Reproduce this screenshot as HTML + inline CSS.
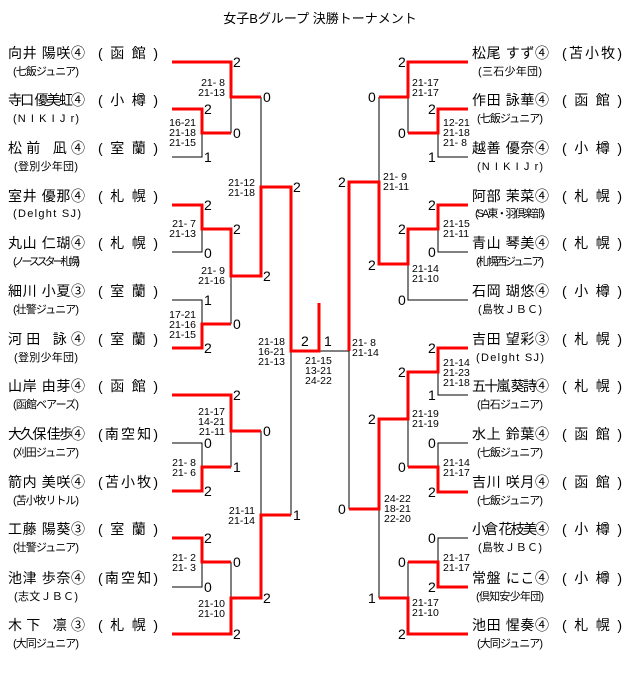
<!DOCTYPE html>
<html><head><meta charset="utf-8"><style>
html,body{margin:0;padding:0;background:#fff;}
svg{display:block;font-family:"Liberation Sans","Noto Sans CJK JP",sans-serif;}
.n{font-size:14px;}
.t{font-size:11px;}
.d{font-size:14px;}
.s{font-size:10.5px;}
</style></head><body>
<svg width="640" height="697" viewBox="0 0 640 697" xmlns="http://www.w3.org/2000/svg">
<text x="320" y="23" text-anchor="middle" font-size="13">女子Bグループ 決勝トーナメント</text>
<g fill="none" stroke="#000" stroke-width="1">
<path d="M172,157H202V133M231,97V133M172,252H202V229M172,300H202V324M231,276V324M261,97V187M291,351V515M172,443H202V467M231,431V467M261,431V515M172,587H202V562M231,562V598M319,351H349V509"/>
<path d="M468,157H438V133M408,97V133M379,97V182M468,252H438V229M468,300H408V264M468,395H438V372M468,443H438V467M408,419V467M468,538H438V562M408,562V598M379,509V598"/>
</g>
<g fill="none" stroke="#f00" stroke-width="3">
<path d="M172,62H231V97H261M172,109H202V133H231M172,205H202V229H231V276H261V187H291V351H319V303M172,348H202V324H231M172,395H231V431H261M172,491H202V467H231M172,538H202V562H231M172,634H231V598H261V515H291"/>
<path d="M468,62H408V97H379M468,109H438V133H408M468,205H438V229H408V264H379V182H349V351M468,348H438V372H408V419H379V509H349M468,492H438V467H408M468,587H438V562H408M468,634H408V598H379"/>
</g>
<g class="d" dominant-baseline="central">
<text x="233" y="62">2</text><text x="204" y="109">2</text><text x="204" y="157">1</text><text x="233" y="133">0</text><text x="263" y="97">0</text>
<text x="204" y="205">2</text><text x="204" y="253">0</text><text x="233" y="229">2</text><text x="204" y="300">1</text><text x="204" y="348">2</text><text x="233" y="324">0</text><text x="263" y="276">2</text><text x="293" y="187">2</text>
<text x="301" y="341">2</text><text x="324" y="341">1</text>
<text x="233" y="395">2</text><text x="204" y="443">0</text><text x="204" y="491">2</text><text x="233" y="467">1</text><text x="263" y="431">0</text>
<text x="204" y="538">2</text><text x="204" y="587">0</text><text x="233" y="562">0</text><text x="233" y="634">2</text><text x="263" y="598">2</text><text x="293" y="515">1</text>
<text x="398" y="62">2</text><text x="368" y="97">0</text><text x="428" y="109">2</text><text x="398" y="133">0</text><text x="428" y="157">1</text><text x="338" y="182">2</text>
<text x="428" y="205">2</text><text x="398" y="229">2</text><text x="428" y="252">0</text><text x="368" y="265">2</text><text x="398" y="300">0</text>
<text x="428" y="348">2</text><text x="428" y="395">1</text><text x="398" y="372">2</text><text x="428" y="443">0</text><text x="428" y="492">2</text><text x="398" y="467">0</text><text x="368" y="419">2</text>
<text x="428" y="538">0</text><text x="428" y="587">2</text><text x="398" y="562">0</text><text x="398" y="634">2</text><text x="368" y="598">1</text><text x="338" y="509">0</text>
</g>
<g class="s" dominant-baseline="central" text-anchor="end">
<text x="225" y="83">21- 8</text><text x="225" y="93">21-13</text>
<text x="196" y="123">16-21</text><text x="196" y="133">21-18</text><text x="196" y="143">21-15</text>
<text x="196" y="224">21- 7</text><text x="196" y="234">21-13</text>
<text x="196" y="315">17-21</text><text x="196" y="325">21-16</text><text x="196" y="335">21-15</text>
<text x="225" y="271">21- 9</text><text x="225" y="281">21-16</text>
<text x="255" y="183">21-12</text><text x="255" y="193">21-18</text>
<text x="285" y="342">21-18</text><text x="285" y="352">16-21</text><text x="285" y="362">21-13</text>
<text x="225" y="412">21-17</text><text x="225" y="422">14-21</text><text x="225" y="432">21-11</text>
<text x="196" y="463">21- 8</text><text x="196" y="473">21- 6</text>
<text x="255" y="511">21-11</text><text x="255" y="521">21-14</text>
<text x="196" y="558">21- 2</text><text x="196" y="568">21- 3</text>
<text x="225" y="604">21-10</text><text x="225" y="614">21-10</text>
</g>
<g class="s" dominant-baseline="central">
<text x="305" y="361">21-15</text><text x="305" y="371">13-21</text><text x="305" y="381">24-22</text>
<text x="352" y="343">21- 8</text><text x="352" y="353">21-14</text>
<text x="412" y="83">21-17</text><text x="412" y="93">21-17</text>
<text x="443" y="123">12-21</text><text x="443" y="133">21-18</text><text x="443" y="143">21- 8</text>
<text x="383" y="177">21- 9</text><text x="383" y="187">21-11</text>
<text x="443" y="224">21-15</text><text x="443" y="234">21-11</text>
<text x="412" y="269">21-14</text><text x="412" y="279">21-10</text>
<text x="443" y="363">21-14</text><text x="443" y="373">21-23</text><text x="443" y="383">21-18</text>
<text x="412" y="414">21-19</text><text x="412" y="424">21-19</text>
<text x="443" y="463">21-14</text><text x="443" y="473">21-17</text>
<text x="384" y="499">24-22</text><text x="384" y="509">18-21</text><text x="384" y="519">22-20</text>
<text x="443" y="558">21-17</text><text x="443" y="568">21-17</text>
<text x="412" y="603">21-17</text><text x="412" y="613">21-10</text>
</g>
<g class="n" dominant-baseline="central" lengthAdjust="spacingAndGlyphs">
<text x="8" y="53" textLength="77">向井 陽咲④</text><text x="98" y="53" textLength="60">( 函 館 )</text>
<text x="8" y="100" textLength="77">寺口 優美虹④</text><text x="98" y="100" textLength="60">( 小 樽 )</text>
<text x="8" y="148" textLength="77">松前 凪④</text><text x="98" y="148" textLength="60">( 室 蘭 )</text>
<text x="8" y="196" textLength="77">室井 優那④</text><text x="98" y="196" textLength="60">( 札 幌 )</text>
<text x="8" y="243" textLength="77">丸山 仁瑚④</text><text x="98" y="243" textLength="60">( 札 幌 )</text>
<text x="8" y="291" textLength="77">細川 小夏③</text><text x="98" y="291" textLength="60">( 室 蘭 )</text>
<text x="8" y="339" textLength="77">河田 詠④</text><text x="98" y="339" textLength="60">( 室 蘭 )</text>
<text x="8" y="386" textLength="77">山岸 由芽④</text><text x="98" y="386" textLength="60">( 函 館 )</text>
<text x="8" y="434" textLength="77">大久保 佳歩④</text><text x="98" y="434" textLength="60">(南空知)</text>
<text x="8" y="482" textLength="77">箭内 美咲④</text><text x="98" y="482" textLength="60">(苫小牧)</text>
<text x="8" y="529" textLength="77">工藤 陽葵③</text><text x="98" y="529" textLength="60">( 室 蘭 )</text>
<text x="8" y="578" textLength="77">池津 歩奈④</text><text x="98" y="578" textLength="60">(南空知)</text>
<text x="8" y="625" textLength="77">木下 凛③</text><text x="98" y="625" textLength="60">( 札 幌 )</text>
<text x="472" y="53" textLength="77">松尾 すず④</text><text x="562" y="53" textLength="60">(苫小牧)</text>
<text x="472" y="100" textLength="77">作田 詠華④</text><text x="562" y="100" textLength="60">( 函 館 )</text>
<text x="472" y="148" textLength="77">越善 優奈④</text><text x="562" y="148" textLength="60">( 小 樽 )</text>
<text x="472" y="196" textLength="77">阿部 茉菜④</text><text x="562" y="196" textLength="60">( 札 幌 )</text>
<text x="472" y="243" textLength="77">青山 琴美④</text><text x="562" y="243" textLength="60">( 札 幌 )</text>
<text x="472" y="291" textLength="77">石岡 瑚悠④</text><text x="562" y="291" textLength="60">( 小 樽 )</text>
<text x="472" y="339" textLength="77">吉田 望彩③</text><text x="562" y="339" textLength="60">( 札 幌 )</text>
<text x="472" y="386" textLength="77">五十嵐 葵詩④</text><text x="562" y="386" textLength="60">( 札 幌 )</text>
<text x="472" y="434" textLength="77">水上 鈴葉④</text><text x="562" y="434" textLength="60">( 函 館 )</text>
<text x="472" y="482" textLength="77">吉川 咲月④</text><text x="562" y="482" textLength="60">( 函 館 )</text>
<text x="472" y="529" textLength="77">小倉 花枝美④</text><text x="562" y="529" textLength="60">( 小 樽 )</text>
<text x="472" y="578" textLength="77">常盤 にこ④</text><text x="562" y="578" textLength="60">( 小 樽 )</text>
<text x="472" y="625" textLength="77">池田 惺奏④</text><text x="562" y="625" textLength="60">( 札 幌 )</text>
</g>
<g class="t" dominant-baseline="central" lengthAdjust="spacingAndGlyphs">
<text x="13" y="72" textLength="66">(七飯ジュニア)</text>
<text x="13" y="119" textLength="66">(N I K I  J r)</text>
<text x="14" y="167" textLength="64">(登別少年団)</text>
<text x="13" y="214" textLength="68">(Delght SJ)</text>
<text x="13" y="262" textLength="67">(ノーススター札幌)</text>
<text x="13" y="310" textLength="66">(壮警ジュニア)</text>
<text x="14" y="358" textLength="64">(登別少年団)</text>
<text x="13" y="405" textLength="66">(函館ベアーズ)</text>
<text x="13" y="453" textLength="66">(刈田ジュニア)</text>
<text x="13" y="501" textLength="66">(苫小牧リトル)</text>
<text x="13" y="548" textLength="66">(壮警ジュニア)</text>
<text x="14" y="597" textLength="64">(志文ＪＢＣ)</text>
<text x="13" y="644" textLength="66">(大同ジュニア)</text>
<text x="478" y="72" textLength="64">(三石少年団)</text>
<text x="477" y="119" textLength="66">(七飯ジュニア)</text>
<text x="477" y="167" textLength="66">(N I K I  J r)</text>
<text x="475" y="214" textLength="70">(SA東・羽倶楽部)</text>
<text x="476" y="262" textLength="68">(札幌西ジュニア)</text>
<text x="478" y="310" textLength="64">(島牧ＪＢＣ)</text>
<text x="476" y="358" textLength="68">(Delght SJ)</text>
<text x="477" y="405" textLength="66">(白石ジュニア)</text>
<text x="477" y="453" textLength="66">(七飯ジュニア)</text>
<text x="477" y="501" textLength="66">(七飯ジュニア)</text>
<text x="478" y="548" textLength="64">(島牧ＪＢＣ)</text>
<text x="476" y="597" textLength="68">(倶知安少年団)</text>
<text x="477" y="644" textLength="66">(大同ジュニア)</text>
</g>
</svg>
</body></html>
